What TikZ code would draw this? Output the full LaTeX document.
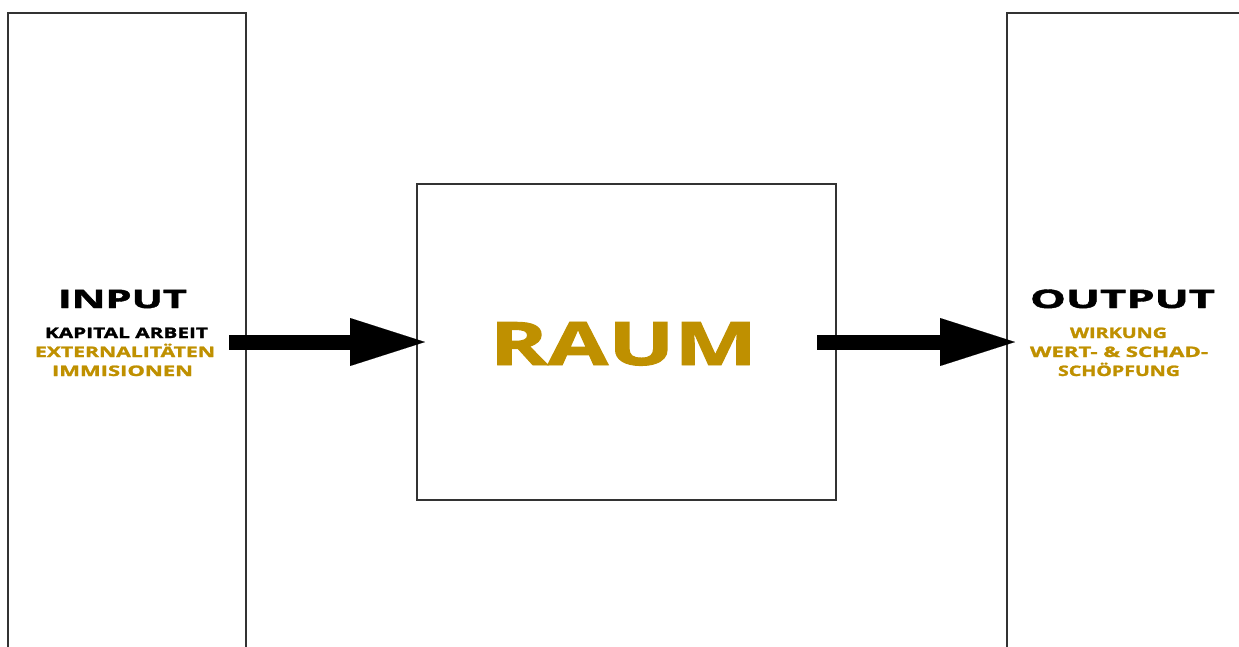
\documentclass[tikz,border=0pt]{standalone}
\usepackage{fontspec}
\setmainfont{Open Sans}[BoldFeatures={FakeBold=1.5}]
\usepackage{graphicx}
\usetikzlibrary{arrows.meta}
\definecolor{gold}{HTML}{BF9000}
\definecolor{frame}{HTML}{333333}
% stretch a line of text horizontally to a given width, keeping its height
\newcommand\stretchto[2]{\resizebox{#1}{\height}{#2}}
\begin{document}
\begin{tikzpicture}[x=1pt,y=1pt,
  panel/.style={draw=frame, line width=2.2pt, rectangle, inner sep=0pt, outer sep=0pt, anchor=north west},
  flow/.style={line width=15pt, black, -{Triangle[length=75pt,width=48pt,line width=0.1pt]}},
  headline/.style={font=\fontsize{25.5}{25.5}\selectfont\bfseries, inner sep=0pt, anchor=base},
  subline/.style={font=\fontsize{14.5}{14.5}\selectfont\bfseries, inner sep=0pt, anchor=base},
  hl/.style={text=gold}]
\useasboundingbox (0,0) rectangle (1239,-646);

% the three panels; the outer ones run off the page
\node[panel, minimum width=238pt, minimum height=700pt] (inbox) at (8,-13) {};
\node[panel, minimum width=300pt, minimum height=700pt] (outbox) at (1007,-13) {};
\node[panel, minimum width=419pt, minimum height=316pt] (raum) at (417,-184) {};

% flow arrows
\draw[flow] ([xshift=-17pt]inbox.east |- raum.west) -- ([xshift=8pt]raum.west);
\draw[flow] ([xshift=-19pt]raum.east) -- ([xshift=8pt]outbox.west |- raum.east);

% input labels
\node[headline] (inT) at (122.5,-308) {\stretchto{129pt}{INPUT}};
\node[subline] (in1) at (126.5,-338) {\stretchto{163pt}{KAPITAL ARBEIT}};
\node[subline, hl] (in2) at (125,-357) {\stretchto{180pt}{EXTERNALITÄTEN}};
\node[subline, hl] (in3) at (122.5,-376) {\stretchto{141pt}{IMMISIONEN}};

% output labels
\node[headline] (outT) at (1122.5,-308) {\stretchto{185pt}{OUTPUT}};
\node[subline, hl] (out1) at (1118.5,-338) {\stretchto{97pt}{WIRKUNG}};
\node[subline, hl] (out2) at (1119,-357) {\stretchto{178pt}{WERT- \& SCHAD-}};
\node[subline, hl] (out3) at (1119,-376) {\stretchto{122pt}{SCHÖPFUNG}};

% centre label
\node[font=\fontsize{60}{60}\selectfont\bfseries, text=gold, inner sep=0pt, anchor=base] (raumT) at (623.5,-365) {\stretchto{267pt}{RAUM}};
\end{tikzpicture}
\end{document}
